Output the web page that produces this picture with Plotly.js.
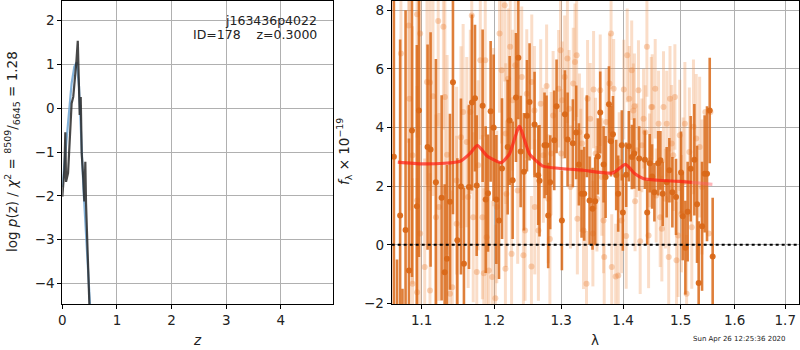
<!DOCTYPE html>
<html><head><meta charset="utf-8">
<script src="https://cdn.plot.ly/plotly-3.0.1.min.js"></script>
<style>html,body{margin:0;padding:0;background:#fff}#c{width:800px;height:350px}</style>
</head><body><div id="c"></div>
<script>
// ---- left panel: log p(z) ----
const zChi = [0.0, 0.037, 0.055, 0.068, 0.105, 0.17, 0.2, 0.233, 0.257, 0.283, 0.3, 0.318, 0.337, 0.355, 0.385, 0.403, 0.421, 0.434, 0.495, 0.52];
const logpChi = [-2.02, -1.41, -0.55, -1.68, -1.48, 0.11, 0.26, 0.65, 1.06, 1.54, 0.87, -0.15, 0.26, -1.03, -1.64, -2.13, -1.22, -2.17, -4.47, -5.0];
const zPrior = [0.0, 0.05, 0.11, 0.17, 0.22, 0.263, 0.306, 0.342, 0.385, 0.447, 0.507, 0.53];
const logpPrior = [-1.8, -1.1, -0.42, 0.57, 0.95, 1.05, 0.49, -0.72, -1.79, -3.16, -4.47, -5.0];

// ---- right panel: spectrum (wavelength in micron, flux x 1e-19) ----
const wDark = [1.064,1.068,1.072,1.075,1.079,1.0834,1.0873,1.0937,1.0964,1.1078,1.1118,1.1189,1.1266,1.1307,1.1338,1.1379,1.1420,1.1480,1.1530,1.1571,1.1641,1.1683,1.1725,1.1749,1.1833,1.1876,1.1909,1.1947,1.1990,1.2029,1.2067,1.2111,1.2193,1.2222,1.2266,1.2315,1.2350,1.2384,1.2433,1.2478,1.2517,1.2592,1.2647,1.2667,1.2743,1.2774,1.2799,1.2830,1.2892,1.2928,1.3011,1.3058,1.3100,1.3183,1.3236,1.3278,1.3321,1.3363,1.3406,1.3449,1.3497,1.3540,1.3584,1.3622,1.3677,1.3710,1.3765,1.3798,1.3831,1.3885,1.3918,1.3979,1.3996,1.4052,1.4097,1.4148,1.4188,1.4272,1.4370,1.4410,1.4454,1.4495,1.4535,1.4600,1.4640,1.4680,1.4750,1.4797,1.4851,1.4916,1.5006,1.5036,1.5084,1.5125,1.5180,1.5247,1.5296,1.5326,1.5388,1.5436,1.5480,1.5530,1.5585];
const fDark = [3.0,-2.6,1.0,-2.8,0.5,-0.88,3.90,1.31,4.58,3.33,3.25,2.13,1.60,-0.94,-0.48,1.47,5.54,0.15,1.99,-0.65,1.97,4.85,5.00,2.02,4.74,1.54,1.76,4.55,3.99,1.54,0.83,2.60,3.33,4.24,2.20,5.02,6.38,3.18,2.49,4.40,4.87,4.10,2.37,2.18,3.39,3.39,1.00,2.13,3.56,4.72,0.83,4.45,3.59,3.46,3.83,2.74,1.74,1.74,3.70,1.51,1.23,1.48,3.01,4.51,2.74,2.31,4.79,3.53,3.77,2.38,1.74,3.39,1.10,2.39,3.36,2.99,3.11,2.94,2.90,1.10,2.78,2.33,1.79,2.78,2.88,1.74,2.13,2.54,1.79,1.63,2.46,0.97,-0.10,1.13,2.59,2.90,1.38,-1.30,0.63,2.42,2.42,4.58,-0.40];
const eDark = [7.0,2.1,6.0,1.3,7.5,4.5,5.0,5.5,5.0,3.5,4.0,4.2,3.5,3.0,3.2,3.0,4.5,2.8,3.0,2.6,2.8,3.0,2.5,2.4,2.6,2.5,2.0,2.4,2.5,2.2,2.0,2.4,2.3,2.2,2.0,2.2,2.1,1.9,2.0,1.9,2.0,1.8,1.7,1.9,1.8,1.7,1.8,1.6,1.7,1.6,1.7,1.5,1.6,1.5,1.6,1.4,1.5,1.6,1.4,1.5,1.4,1.5,1.3,1.4,1.3,1.4,1.3,1.2,1.3,1.2,1.3,1.2,1.3,1.1,1.2,1.1,1.2,1.1,1.0,1.1,1.0,1.1,1.0,1.1,1.0,1.1,1.2,1.1,1.2,1.3,1.4,1.5,1.6,1.7,1.8,1.9,2.0,2.1,2.2,2.0,2.3,1.8,2.0];

const wLight = [1.073,1.083,1.094,1.084,1.088,1.094,1.098,1.104,1.111,1.088,1.094,1.098,1.107,1.111,1.115,1.122,1.129,1.131,1.134,1.123,1.119,1.141,1.138,1.147,1.147,1.153,1.156,1.161,1.163,1.166,1.168,1.170,1.175,1.177,1.180,1.183,1.185,1.187,1.189,1.192,1.197,1.199,1.2015,1.2035,1.2075,1.2105,1.215,1.2165,1.216,1.2175,1.220,1.223,1.225,1.2265,1.2305,1.234,1.240,1.2425,1.245,1.2475,1.2545,1.255,1.259,1.2595,1.265,1.2685,1.2725,1.2775,1.280,1.2825,1.2845,1.2875,1.296,1.299,1.300,1.3016,1.3054,1.3097,1.3124,1.3146,1.3189,1.3216,1.3243,1.3254,1.3287,1.3308,1.3330,1.3352,1.3400,1.3417,1.3460,1.3503,1.3514,1.3547,1.3568,1.3622,1.3649,1.3676,1.3687,1.3719,1.3773,1.3800,1.3811,1.3843,1.3876,1.3919,1.3935,1.3973,1.4012,1.4052,1.4069,1.4104,1.4145,1.4173,1.4191,1.4202,1.4231,1.4260,1.4289,1.4318,1.4347,1.4376,1.4405,1.4434,1.4451,1.4480,1.4497,1.4549,1.4566,1.4607,1.4636,1.4665,1.4694,1.4728,1.4751,1.4786,1.4809,1.4838,1.4867,1.4896,1.4925,1.4954,1.4983,1.5013,1.5044,1.5075,1.5106,1.5156,1.5200,1.5231,1.5281,1.5344,1.5388,1.5450,1.5513,1.5544];
const fLight = [6.52,7.48,7.86,4.98,3.05,1.51,0.38,-0.76,-1.56,-1.33,-1.62,7.20,5.55,5.53,5.06,7.63,7.43,5.04,3.07,1.29,0.94,-1.45,-1.67,2.19,0.72,3.67,4.53,3.50,1.63,4.53,7.82,0.94,-0.93,2.71,6.29,0.94,-0.97,6.29,0.26,-0.88,-1.10,4.01,-1.82,1.29,7.20,5.95,8.17,3.79,-0.82,1.74,5.66,6.75,-0.31,4.93,6.12,1.85,5.72,-0.36,0.49,5.15,-0.74,5.55,4.58,1.29,0.49,4.81,3.05,5.41,1.57,0.20,3.11,4.41,5.32,6.63,3.11,4.93,5.72,6.35,4.64,1.97,5.50,6.23,6.46,0.89,3.84,2.54,3.45,0.49,-1.33,4.98,4.30,0.38,5.29,3.11,1.57,5.27,2.31,0.83,-0.42,4.19,5.50,7.20,-0.76,5.32,-1.08,-1.05,2.82,0.83,5.29,0.30,6.46,4.98,5.95,4.58,4.72,1.48,3.22,5.27,0.12,3.39,4.30,3.84,6.75,0.32,2.88,4.70,4.70,5.32,1.68,4.13,0.94,0.55,4.70,1.57,4.13,-0.42,4.98,3.45,3.05,5.04,-0.53,0.32,3.73,1.06,2.14,4.13,-1.67,3.16,0.60,4.02,3.62,3.33,1.97,4.53,0.38,4.53];
const eLight = [4.5,4.0,4.2,3.8,4.4,3.9,4.1,3.7,4.0,3.6,3.9,3.8,3.5,3.7,3.4,3.6,3.5,3.3,3.4,3.2,3.5,3.3,3.1,3.2,3.0,3.1,3.0,2.9,3.1,2.8,3.0,2.9,2.8,2.9,2.7,2.8,2.9,2.6,2.8,2.7,2.6,2.7,2.5,2.6,2.7,2.5,2.6,2.4,2.6,2.5,2.4,2.5,2.6,2.4,2.3,2.5,2.4,2.3,2.4,2.2,2.4,2.3,2.2,2.3,2.4,2.2,2.3,2.1,2.2,2.3,2.1,2.2,2.0,2.1,2.2,2.0,2.1,2.2,2.0,2.1,1.9,2.0,2.1,1.9,2.0,2.1,1.9,2.0,1.8,2.0,1.9,1.8,2.0,1.9,1.8,1.9,2.0,1.8,1.9,1.8,1.7,1.9,1.8,1.7,1.8,1.9,1.7,1.8,1.7,1.8,1.6,1.8,1.7,1.6,1.8,1.7,1.6,1.7,1.8,1.6,1.7,1.6,1.7,1.8,1.6,1.7,1.8,1.7,1.6,1.8,1.7,1.8,1.9,1.7,1.8,1.9,1.8,2.0,1.9,1.8,2.0,2.1,1.9,2.0,2.2,2.1,2.0,2.2,2.1,2.3,2.2,2.4,2.3];

const wModel = [1.069, 1.10, 1.13, 1.152, 1.165, 1.176, 1.19, 1.21, 1.222, 1.2365, 1.2515, 1.272, 1.30, 1.335, 1.383, 1.404, 1.42, 1.435, 1.46, 1.498, 1.52];
const fModel = [2.82, 2.76, 2.78, 2.85, 3.10, 3.39, 3.02, 2.80, 3.10, 4.04, 3.10, 2.68, 2.60, 2.54, 2.45, 2.74, 2.42, 2.25, 2.20, 2.16, 2.13];
const wModelEnd = [1.52, 1.54, 1.558];
const fModelEnd = [2.13, 2.09, 2.06];

const xTicksL = [0, 1, 2, 3, 4];
const yTicksL = [-4, -3, -2, -1, 0, 1, 2];
const xTicksR = [1.1, 1.2, 1.3, 1.4, 1.5, 1.6, 1.7];
const xTickTextR = ['1.1', '1.2', '1.3', '1.4', '1.5', '1.6', '1.7'];
const yTicksR = [-2, 0, 2, 4, 6, 8];

const FONT = 'DejaVu Sans, sans-serif';
const darkC = 'rgb(217,104,24)';
const lightBar = 'rgba(240,150,85,0.32)';
const lightDot = 'rgba(236,140,70,0.38)';

const traces = [
  {x: zPrior, y: logpPrior, xaxis: 'x', yaxis: 'y', mode: 'lines', line: {color: 'rgba(110,165,210,0.85)', width: 2.2}, hoverinfo: 'skip'},
  {x: zChi, y: logpChi, xaxis: 'x', yaxis: 'y', mode: 'lines', line: {color: 'rgba(40,40,40,0.85)', width: 2.2}, hoverinfo: 'skip'},
  {x: wLight, y: fLight, xaxis: 'x2', yaxis: 'y2', mode: 'markers', marker: {color: lightDot, size: 6},
   error_y: {type: 'data', array: eLight, visible: true, color: lightBar, thickness: 3, width: 0}},
  {x: wDark, y: fDark, xaxis: 'x2', yaxis: 'y2', mode: 'markers', marker: {color: darkC, size: 6, opacity: 0.95},
   error_y: {type: 'data', array: eDark, visible: true, color: 'rgba(217,104,24,0.85)', thickness: 2.6, width: 0}},
  {x: wModel, y: fModel, xaxis: 'x2', yaxis: 'y2', mode: 'lines', line: {color: 'rgba(255,30,20,0.72)', width: 3.2, shape: 'spline', smoothing: 0.5}},
  {x: wModelEnd, y: fModelEnd, xaxis: 'x2', yaxis: 'y2', mode: 'lines', line: {color: 'rgba(255,90,100,0.45)', width: 3.2}}
];

const axBase = {showline: true, mirror: true, linecolor: 'black', linewidth: 1, ticks: 'outside', ticklen: 4, tickcolor: 'black',
  showgrid: true, gridcolor: '#b0b0b0', gridwidth: 1, zeroline: false, tickfont: {family: FONT, size: 13.5, color: '#222'}, automargin: false, fixedrange: true};

const txt = (x, y, text, opts) => Object.assign({xref: 'paper', yref: 'paper', x: x / 800, y: 1 - y / 350, text: text, showarrow: false,
  xanchor: 'center', yanchor: 'middle', font: {family: FONT, size: 13.5, color: '#222'}}, opts || {});

const layout = {
  width: 800, height: 350, margin: {l: 0, r: 0, t: 0, b: 0}, showlegend: false,
  paper_bgcolor: 'white', plot_bgcolor: 'white', font: {family: FONT, color: '#222'},
  xaxis: Object.assign({}, axBase, {domain: [0.0779, 0.4166], range: [0, 4.96], tickvals: xTicksL, anchor: 'y'}),
  yaxis: Object.assign({}, axBase, {domain: [0.1314, 0.997], range: [-4.47, 2.45], tickvals: yTicksL, anchor: 'x'}),
  xaxis2: Object.assign({}, axBase, {domain: [0.4896, 0.999], type: 'log', range: [0.0258, 0.2377], tickvals: xTicksR, ticktext: xTickTextR, anchor: 'y2'}),
  yaxis2: Object.assign({}, axBase, {domain: [0.1314, 0.997], range: [-2.02, 8.31], tickvals: yTicksR, anchor: 'x2'}),
  shapes: [
    {type: 'line', xref: 'x2 domain', x0: 0, x1: 1, yref: 'y2', y0: 0, y1: 0, line: {color: 'black', width: 2, dash: 'dot'}, layer: 'above'}
  ],
  annotations: [
    txt(12, 152, 'log <i>p</i>(z) / <i>χ</i><sup>2</sup> = <sup>8509</sup>/<sub>6645</sub> = 1.28', {textangle: -90}),
    txt(344, 152, '<i>f</i><sub>λ</sub> × 10<sup>−19</sup>', {textangle: -90}),
    txt(197, 340, '<i>z</i>'),
    txt(595, 340, 'λ'),
    txt(319, 20, 'j163436p4022', {xanchor: 'right', font: {family: FONT, size: 12.5, color: '#222'}}),
    txt(319, 35, 'ID=178    z=0.3000', {xanchor: 'right', font: {family: FONT, size: 12.5, color: '#222'}}),
    txt(788, 339, 'Sun Apr 26 12:25:36 2020', {xanchor: 'right', font: {family: FONT, size: 7, color: '#222'}})
  ]
};

Plotly.newPlot('c', traces, layout, {staticPlot: true, displayModeBar: false});
</script></body></html>
